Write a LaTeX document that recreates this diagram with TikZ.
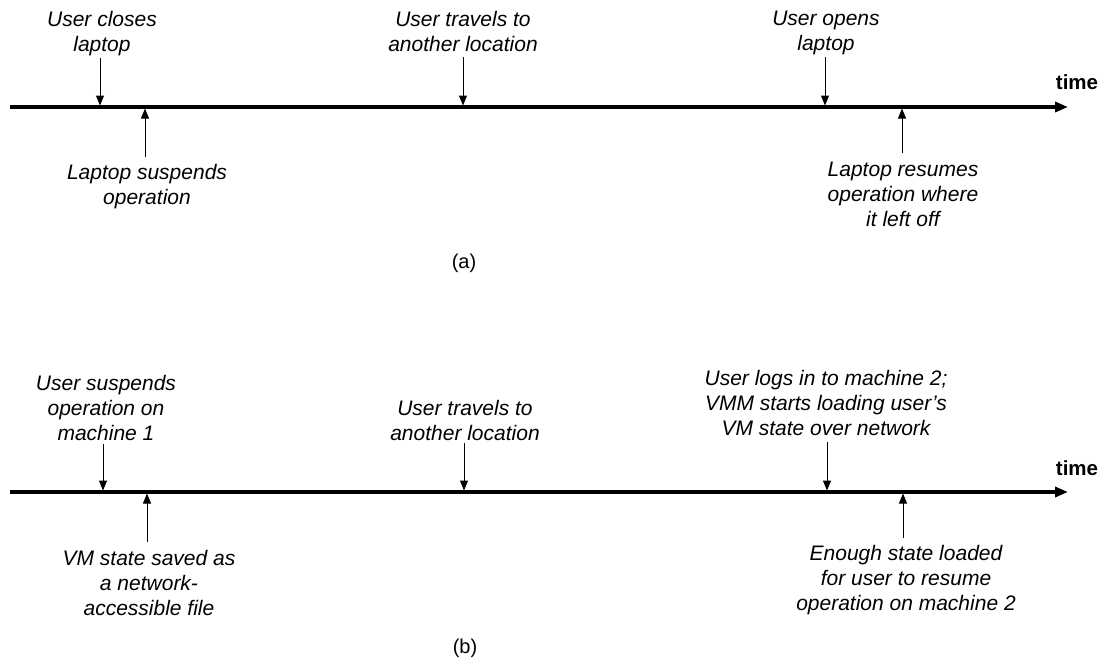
\documentclass[tikz,border=0pt]{standalone}
\usepackage{fontspec}
\setmainfont{Liberation Sans}
\usetikzlibrary{arrows.meta}
\tikzset{
  lab/.style={font=\fontsize{21}{25}\selectfont\itshape, align=center, inner sep=0pt, anchor=north},
  subcap/.style={font=\fontsize{20}{24}\selectfont, inner sep=0pt},
  timelbl/.style={font=\fontsize{20.5}{24}\selectfont\bfseries, inner sep=0pt},
  timeline/.style={line width=3.2pt, -{Triangle[length=13pt,width=10pt]}},
  ev/.style={line width=1pt, -{Triangle[length=10pt,width=8pt]}}
}
\begin{document}
\begin{tikzpicture}[x=1pt,y=-1pt]
\useasboundingbox (0,0) rectangle (1106,657);
% ---------------- (a) ----------------
\coordinate (sa) at (10,107);
\coordinate (ea) at (1068,107);
\draw[timeline] (sa) -- (ea);
\node[timelbl] (tima) at (1077,82) {time};

\node[lab] (a1) at (102,11) {User closes\\laptop};
\coordinate (a1s) at (100,58);
\coordinate (a1e) at (100,105.5);
\draw[ev] (a1s) -- (a1e);

\node[lab] (a2) at (147,164) {Laptop suspends\\operation};
\coordinate (a2s) at (145,157);
\coordinate (a2e) at (145,108.5);
\draw[ev] (a2s) -- (a2e);

\node[lab] (a3) at (463,11) {User travels to\\another location};
\coordinate (a3s) at (463,57);
\coordinate (a3e) at (463,105.5);
\draw[ev] (a3s) -- (a3e);

\node[lab] (a4) at (826,11) {User opens\\laptop};
\coordinate (a4s) at (825,57);
\coordinate (a4e) at (825,105.5);
\draw[ev] (a4s) -- (a4e);

\node[lab] (a5) at (903,162) {Laptop resumes\\operation where\\it left off};
\coordinate (a5s) at (902,153);
\coordinate (a5e) at (902,108.5);
\draw[ev] (a5s) -- (a5e);

\node[subcap] (capa) at (464,263) {(a)};

% ---------------- (b) ----------------
\coordinate (sb) at (10,492);
\coordinate (eb) at (1068,492);
\draw[timeline] (sb) -- (eb);
\node[timelbl] (timb) at (1077,468) {time};

\node[lab] (b1) at (106,375) {User suspends\\operation on\\machine 1};
\coordinate (b1s) at (103,444);
\coordinate (b1e) at (103,490.5);
\draw[ev] (b1s) -- (b1e);

\node[lab] (b2) at (149,550) {VM state saved as\\a network-\\accessible file};
\coordinate (b2s) at (147,542);
\coordinate (b2e) at (147,493.5);
\draw[ev] (b2s) -- (b2e);

\node[lab] (b3) at (465,400) {User travels to\\another location};
\coordinate (b3s) at (464,443);
\coordinate (b3e) at (464,490.5);
\draw[ev] (b3s) -- (b3e);

\node[lab] (b4) at (826,370) {User logs in to machine 2;\\VMM starts loading user's\\VM state over network};
\coordinate (b4s) at (827,442);
\coordinate (b4e) at (827,490.5);
\draw[ev] (b4s) -- (b4e);

\node[lab] (b5) at (906,545) {Enough state loaded\\for user to resume\\operation on machine 2};
\coordinate (b5s) at (903,538);
\coordinate (b5e) at (903,493.5);
\draw[ev] (b5s) -- (b5e);

\node[subcap] (capb) at (465,648) {(b)};
\end{tikzpicture}
\end{document}
